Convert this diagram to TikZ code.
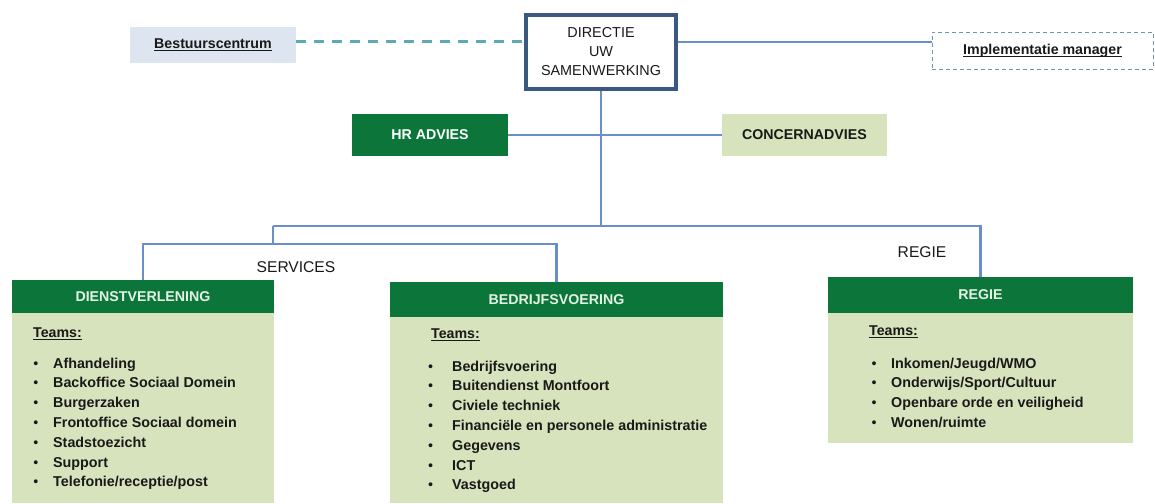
\documentclass[tikz,border=0pt]{standalone}
\usepackage{fontspec}
\setmainfont{Liberation Sans}
\usetikzlibrary{positioning}

\definecolor{hdgreen}{RGB}{12,118,58}
\definecolor{lightgreen}{RGB}{215,227,189}
\definecolor{linkblue}{RGB}{105,142,202}
\definecolor{dirblue}{RGB}{58,88,130}
\definecolor{dashteal}{RGB}{95,170,178}
\definecolor{paleblue}{RGB}{220,229,240}
\definecolor{framegrey}{RGB}{110,150,170}
\definecolor{hdtext}{RGB}{228,242,228}
\definecolor{bodytext}{RGB}{25,25,25}

% underline at a fixed depth below the baseline
\newcommand{\undertxt}[1]{\setbox0\hbox{#1}\rlap{\rule[-2.4pt]{\wd0}{0.9pt}}\box0}

\tikzset{
  link/.style={draw=linkblue, line width=2.4pt},
  dashlink/.style={draw=dashteal, line width=3pt, dash pattern=on 10pt off 8pt},
  hdbox/.style={fill=hdgreen, text=hdtext, inner sep=0pt,
    font=\fontsize{14.2}{17}\selectfont\bfseries},
  bodybox/.style={fill=lightgreen, inner sep=0pt},
  topbox/.style={inner sep=0pt, text=bodytext,
    font=\fontsize{14.2}{17}\selectfont\bfseries},
  teamlbl/.style={anchor=base west, inner sep=0pt, text=bodytext,
    font=\fontsize{14.2}{17}\selectfont\bfseries},
  listitem/.style={anchor=base west, inner sep=0pt, text=bodytext,
    font=\fontsize{14.3}{17}\selectfont\bfseries},
  dot/.style={anchor=base, inner sep=0pt, text=bodytext,
    font=\fontsize{14.3}{17}\selectfont},
  plainlbl/.style={inner sep=0pt, text=bodytext,
    font=\fontsize{15.6}{18}\selectfont},
}

\begin{document}
\begin{tikzpicture}[x=1pt,y=-1pt]
  \useasboundingbox (0,0) rectangle (1155,503);

  % top row
  \node[topbox, fill=paleblue, minimum width=166pt, minimum height=36pt]
    (bestuur) at (213,45) {\undertxt{Bestuurscentrum}};
  \node[draw=dirblue, line width=4pt, fill=white, minimum width=150pt,
    minimum height=74pt, inner sep=0pt, align=center, text=bodytext,
    font=\fontsize{14.4}{19}\selectfont]
    (directie) at (601,52) {DIRECTIE\\UW\\SAMENWERKING};
  \node[topbox, draw=framegrey, line width=0.8pt, dash pattern=on 4pt off 3pt,
    minimum width=221pt, minimum height=37pt]
    (implem) at (1042.5,50.5) {\undertxt{Implementatie manager}};

  % advice row
  \node[hdbox, text=white, minimum width=156pt, minimum height=42pt]
    (hradvies) at (430,135) {HR ADVIES};
  \node[topbox, fill=lightgreen, minimum width=165pt, minimum height=42pt]
    (concern) at (804.5,135) {CONCERNADVIES};

  % departments
  \node[hdbox, minimum width=262pt, minimum height=33pt]
    (dienst) at (143,296.5) {DIENSTVERLENING};
  \node[bodybox, minimum width=262pt, minimum height=190pt, below=0pt of dienst]
    (dienstbody) {};
  \node[hdbox, minimum width=333pt, minimum height=35pt]
    (bedrijf) at (556.5,299.5) {BEDRIJFSVOERING};
  \node[bodybox, minimum width=333pt, minimum height=186pt, below=0pt of bedrijf]
    (bedrijfbody) {};
  \node[hdbox, minimum width=305pt, minimum height=36pt]
    (regie) at (980.5,295) {REGIE};
  \node[bodybox, minimum width=305pt, minimum height=130pt, below=0pt of regie]
    (regiebody) {};

  % connectors
  \coordinate (topline) at (0,42);
  \coordinate (hub) at (601,226);
  \coordinate (svc) at (273,244);
  \draw[dashlink] (bestuur.east |- topline) -- (directie.west |- topline);
  \draw[link] (directie.east |- topline) -- (implem.west |- topline);
  \draw[link] (hradvies.east) -- (concern.west);
  \draw[link] (directie.south) -- (hub);
  \draw[link] (svc |- hub) -- (hub) -| (regie.north);
  \draw[link] (svc |- hub) -- (svc);
  \draw[link] (dienst.north) |- (svc) -| (bedrijf.north);

  \node[plainlbl] (services) at (296,267) {SERVICES};
  \node[plainlbl] (regielbl) at (922,252) {REGIE};

  % team lists
  \node[teamlbl] (dvteams) at (33,337) {\undertxt{Teams:}};
  \foreach \txt [count=\i from 0] in {Afhandeling, Backoffice Sociaal Domein,
      Burgerzaken, Frontoffice Sociaal domein, Stadstoezicht, Support,
      Telefonie/receptie/post} {
    \node[listitem] (dv\i) at (53,368+19.8*\i) {\txt};
    \node[dot] at ([xshift=-17pt]dv\i.base west) {\textbullet};
  }

  \node[teamlbl] (bvteams) at (431,338) {\undertxt{Teams:}};
  \foreach \txt [count=\i from 0] in {Bedrijfsvoering, Buitendienst Montfoort,
      Civiele techniek, Financiële en personele administratie, Gegevens, ICT,
      Vastgoed} {
    \node[listitem] (bv\i) at (452,371+19.8*\i) {\txt};
    \node[dot] at ([xshift=-21.5pt]bv\i.base west) {\textbullet};
  }

  \node[teamlbl] (rgteams) at (869,335) {\undertxt{Teams:}};
  \foreach \txt [count=\i from 0] in {Inkomen/Jeugd/WMO,
      Onderwijs/Sport/Cultuur, Openbare orde en veiligheid, Wonen/ruimte} {
    \node[listitem] (rg\i) at (891,368+19.8*\i) {\txt};
    \node[dot] at ([xshift=-17pt]rg\i.base west) {\textbullet};
  }
\end{tikzpicture}
\end{document}
